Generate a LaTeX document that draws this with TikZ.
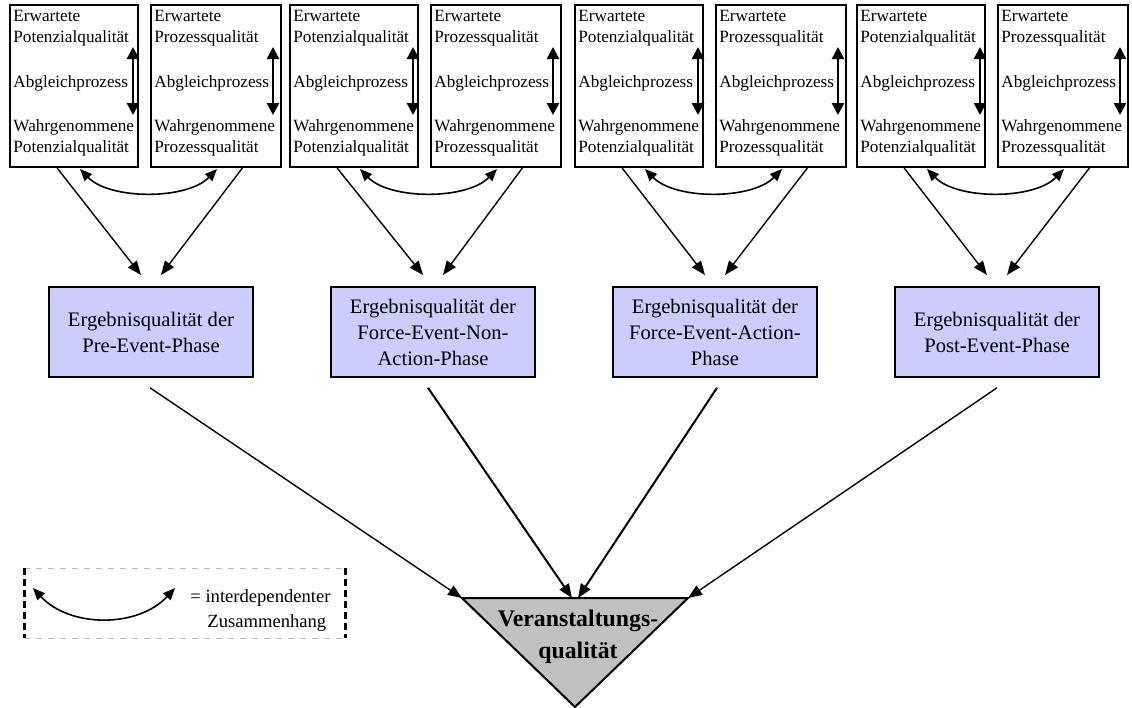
\documentclass[tikz,border=0pt]{standalone}
\usepackage{fontspec}
\setmainfont{Liberation Serif}
\usetikzlibrary{arrows.meta,calc}
\definecolor{resblue}{HTML}{CCCCFF}
\definecolor{coregray}{HTML}{C0C0C0}

\begin{document}
\begin{tikzpicture}[x=0.5pt,y=-0.5pt,
  qbox/.style={draw,line width=1pt,rectangle,inner sep=0pt,minimum height=81pt},
  qtext/.style={anchor=base west,inner sep=0pt,font=\fontsize{8.6pt}{10.5pt}\selectfont},
  result/.style={draw,line width=0.8pt,fill=resblue,minimum width=102pt,minimum height=45pt,
    align=center,inner sep=0pt,font=\fontsize{10.3pt}{13pt}\selectfont},
  headend/.style={-{Triangle[length=7pt,width=5.5pt]}},
  bothheads/.style={{Triangle[length=6pt,width=6pt]}-{Triangle[length=6pt,width=6pt]}},
  link/.style={line width=0.7pt,headend},
  mutual/.style={line width=0.8pt,{Triangle[length=6pt,width=5pt]}-{Triangle[length=6pt,width=5pt]}},
]
\useasboundingbox (0,0) rectangle (1132,708);

% four phases: expected vs. perceived quality boxes
\foreach \g/\o/\c in {1/10/151, 2/290/433, 3/575/715, 4/857/997} {
  \node[qbox,minimum width=64pt] (pa\g) at (\o+64,86) {};
  \node[qbox,minimum width=65pt] (pb\g) at (\o+206,86) {};
  \node[qtext] (pa\g l1) at (\o+3,21) {Erwartete};
  \node[qtext] (pa\g l2) at (\o+3,42) {Potenzialqualität};
  \node[qtext] (pa\g l3) at (\o+3,87) {Abgleichprozess};
  \node[qtext] (pa\g l4) at (\o+3,131) {Wahrgenommene};
  \node[qtext] (pa\g l5) at (\o+3,152) {Potenzialqualität};
  \node[qtext] (pb\g l1) at (\o+144,21) {Erwartete};
  \node[qtext] (pb\g l2) at (\o+144,42) {Prozessqualität};
  \node[qtext] (pb\g l3) at (\o+144,87) {Abgleichprozess};
  \node[qtext] (pb\g l4) at (\o+144,131) {Wahrgenommene};
  \node[qtext] (pb\g l5) at (\o+144,152) {Prozessqualität};
  % comparison arrows
  \coordinate (ua\g) at (\o+123,47); \coordinate (da\g) at (\o+123,115);
  \coordinate (ub\g) at (\o+263,47); \coordinate (db\g) at (\o+263,115);
  \draw[line width=1.2pt,bothheads] (ua\g) -- (da\g);
  \draw[line width=1.2pt,bothheads] (ub\g) -- (db\g);
  % interdependence
  \coordinate (ca\g) at (\o+70,169); \coordinate (cb\g) at (\o+207,169);
  \draw[mutual] (ca\g) .. controls (\o+100,200) and (\o+177,200) .. (cb\g);
  % arrows towards the phase result
  \coordinate (ta\g) at (\c-10,275); \coordinate (tb\g) at (\c+10,275);
  \draw[link] ($(pa\g.south west)!0.37!(pa\g.south east)$) -- (ta\g);
  \draw[link] ($(pb\g.south west)!0.70!(pb\g.south east)$) -- (tb\g);
}

% phase results
\node[result] (r1) at (151,332) {Ergebnisqualität der\\Pre-Event-Phase};
\node[result] (r2) at (433,332) {Ergebnisqualität der\\Force-Event-Non-\\Action-Phase};
\node[result] (r3) at (715,332) {Ergebnisqualität der\\Force-Event-Action-\\Phase};
\node[result] (r4) at (997,332) {Ergebnisqualität der\\Post-Event-Phase};

% overall event quality
\coordinate (tl) at (462,598);
\coordinate (tr) at (688,598);
\coordinate (tbot) at (575,707);
\coordinate (t2) at (572,598);
\coordinate (t3) at (578,598);
\draw[line width=1pt,fill=coregray] (tl) -- (tr) -- (tbot) -- cycle;
\node[inner sep=0pt,align=center,font=\bfseries\fontsize{11.9pt}{16pt}\selectfont] (vq) at (578,637)
  {Veranstaltungs-\\qualität};

\draw[link] ($(r1.south)+(-1,10)$) -- (tl);
\draw[link,line width=1pt] ($(r2.south)+(-5,10)$) -- (t2);
\draw[link,line width=1pt] ($(r3.south)+(2,10)$) -- (t3);
\draw[link] ($(r4.south)+(0,10)$) -- (tr);

% legend
\coordinate (lgnw) at (24,568); \coordinate (lgne) at (345,568);
\coordinate (lgsw) at (24,638); \coordinate (lgse) at (345,638);
\draw[gray!55,dashed,line width=0.4pt] (lgnw) -- (lgne) (lgsw) -- (lgse);
\draw[line width=1.5pt,dash pattern=on 3.5pt off 2pt] (lgnw) -- (lgsw) (lgne) -- (lgse);
\coordinate (lga) at (33,588); \coordinate (lgb) at (175,588);
\draw[mutual] (lga) .. controls (70,628) and (138,628) .. (lgb);
\node[anchor=base west,inner sep=0pt,font=\fontsize{9.3pt}{12pt}\selectfont] (lgt1) at (190,602) {= interdependenter};
\node[anchor=base west,inner sep=0pt,font=\fontsize{9.3pt}{12pt}\selectfont] (lgt2) at (207,627) {Zusammenhang};
\end{tikzpicture}
\end{document}
